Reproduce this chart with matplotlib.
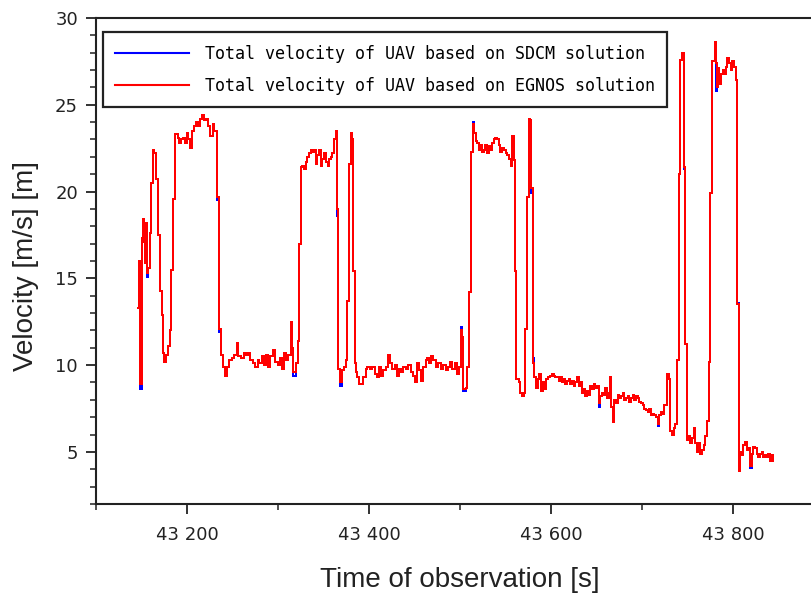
import numpy as np
import matplotlib
matplotlib.use("Agg")
import matplotlib.pyplot as plt
from matplotlib.ticker import MultipleLocator, FuncFormatter

# EGNOS velocity (time [s], velocity [m/s])
t_leg1 = [43146.6, 43147.4, 43148.8, 43150.0, 43150.7, 43151.4, 43152.5, 43154.0, 43155.4, 43156.2,
          43157.6, 43159.1, 43160.5, 43162.7, 43164.2, 43165.7, 43167.9, 43170.1, 43172.2, 43174.1,
          43175.2, 43176.6, 43178.8, 43181.0, 43182.5, 43185.0, 43187.2, 43189.8, 43191.6, 43193.5,
          43196.0, 43197.8, 43199.7, 43201.5, 43203.7, 43205.2, 43208.1, 43209.9, 43211.7, 43214.0,
          43216.5, 43218.3, 43220.9, 43223.4, 43225.6, 43228.2, 43230.0, 43233.0, 43235.5, 43237.3,
          43239.5, 43241.7, 43243.9, 43246.5, 43249.0, 43251.2, 43254.9, 43256.4, 43259.3, 43262.2,
          43264.8, 43267.3, 43269.5, 43272.1, 43274.6, 43277.6, 43279.4, 43282.0, 43284.2, 43286.7,
          43288.5, 43291.5, 43294.0, 43296.6, 43299.5, 43302.1, 43303.9, 43306.1, 43308.7, 43311.2,
          43314.1, 43315.6, 43317.0, 43319.6, 43322.2, 43323.3, 43325.1]
v_leg1 = [13.3, 16.0, 8.9, 17.3, 17.1, 18.4, 17.1, 15.9, 18.2, 15.3,
          15.6, 17.6, 20.5, 22.4, 22.2, 20.7, 17.5, 14.3, 12.9, 10.7,
          10.2, 10.6, 11.1, 12.0, 15.5, 19.6, 23.3, 23.1, 22.8, 23.0,
          23.1, 22.8, 23.4, 23.0, 22.5, 23.5, 23.8, 24.0, 23.8, 24.2,
          24.4, 24.1, 24.2, 23.8, 23.2, 23.9, 23.5, 19.7, 12.1, 10.6,
          9.9, 9.4, 9.9, 10.3, 10.4, 10.6, 11.3, 10.5, 10.4, 10.7,
          10.6, 10.7, 10.3, 10.1, 9.9, 10.3, 10.1, 10.5, 10.0, 10.6,
          9.9, 10.5, 10.9, 10.2, 10.0, 10.4, 9.8, 10.7, 10.3, 10.6,
          12.5, 11.0, 9.6, 10.1, 11.4, 17.0, 21.4]

t_leg2 = [43326.9, 43328.8, 43330.6, 43332.4, 43334.2, 43336.1, 43337.9, 43339.7, 43341.6, 43343.4,
          43345.2, 43347.0, 43348.9, 43350.7, 43352.5, 43354.4, 43356.2, 43358.0, 43359.8, 43361.7,
          43363.5, 43364.6, 43366.1, 43368.3, 43370.4, 43372.6, 43374.5, 43375.6, 43378.1, 43380.0,
          43381.8, 43382.9, 43384.3, 43385.4, 43387.3, 43389.1, 43391.7, 43393.9, 43396.4, 43398.2,
          43401.2, 43403.7, 43406.3, 43408.5, 43411.0, 43412.9, 43415.8, 43418.4, 43420.9, 43423.1,
          43425.7, 43428.2, 43430.4, 43433.0, 43435.5, 43437.7, 43440.3, 43442.9, 43445.8, 43448.7,
          43450.5, 43452.4, 43454.9, 43457.5, 43459.7, 43462.2, 43464.1, 43465.9, 43468.5, 43470.6,
          43473.2, 43475.8, 43478.7, 43481.6, 43484.2, 43486.7, 43488.9, 43491.5, 43494.1, 43496.2,
          43498.8, 43500.6, 43502.5, 43503.6, 43506.1, 43508.0]
v_leg2 = [21.5, 21.3, 21.7, 22.0, 22.2, 22.4, 22.3, 22.4, 21.6, 22.1,
          22.4, 21.5, 21.9, 22.2, 21.7, 21.5, 21.9, 22.0, 22.2, 23.0,
          23.5, 19.0, 9.8, 9.0, 9.7, 9.9, 10.3, 13.7, 21.6, 23.4,
          23.0, 15.4, 10.1, 9.6, 9.3, 8.9, 8.9, 9.3, 9.8, 9.9,
          9.8, 9.9, 9.5, 9.3, 9.9, 9.4, 9.7, 9.9, 10.6, 10.1,
          9.8, 10.0, 9.4, 9.8, 9.6, 9.9, 9.8, 10.0, 9.6, 9.4,
          9.0, 10.1, 9.7, 9.1, 9.9, 10.3, 10.4, 10.1, 10.5, 10.3,
          9.9, 10.1, 9.8, 10.0, 9.7, 9.9, 10.2, 9.8, 10.1, 9.5,
          9.9, 12.0, 11.6, 8.6, 8.7, 9.9]

t_leg3 = [43509.7, 43512.3, 43514.1, 43515.2, 43517.1, 43518.9, 43520.7, 43522.5, 43524.4, 43526.2,
          43528.0, 43529.9, 43531.7, 43533.5, 43535.3, 43537.2, 43539.0, 43540.8, 43542.7, 43544.5,
          43546.3, 43548.1, 43550.0, 43551.8, 43553.6, 43555.5, 43557.3, 43559.1, 43560.2, 43562.0,
          43564.6, 43566.4, 43568.6, 43570.8, 43571.9, 43573.7, 43575.6, 43577.4, 43578.5, 43580.3,
          43581.8, 43583.6, 43585.4, 43587.3, 43589.1, 43590.9, 43592.8, 43594.9, 43596.8, 43598.6,
          43601.2, 43603.0, 43604.8, 43606.7, 43608.5, 43610.3, 43612.1, 43614.0, 43615.8, 43617.6,
          43619.5, 43621.3, 43623.1, 43624.9, 43626.8, 43628.6, 43630.4, 43632.3, 43634.1, 43635.9,
          43637.7, 43639.6, 43641.4, 43643.2, 43645.1, 43646.9, 43648.7, 43650.5, 43652.4, 43654.2,
          43656.0, 43657.9, 43659.7, 43661.5, 43663.3, 43665.2, 43666.3, 43667.7, 43669.6, 43671.4,
          43673.2, 43675.0, 43676.9, 43678.7, 43680.5, 43682.4, 43684.2, 43686.0, 43687.8, 43689.7,
          43691.5, 43693.3, 43695.2, 43697.0, 43698.8, 43700.6, 43702.5, 43704.3, 43706.1, 43708.0,
          43709.8, 43711.6, 43713.4, 43715.3, 43717.1, 43718.9, 43720.8, 43722.6, 43724.4]
v_leg3 = [14.2, 22.3, 23.9, 23.4, 22.9, 22.8, 22.4, 22.7, 22.3, 22.4,
          22.7, 22.2, 22.6, 22.4, 22.8, 23.0, 23.1, 23.0, 22.7, 22.3,
          22.5, 22.4, 22.2, 22.1, 21.9, 21.5, 23.2, 21.8, 15.4, 9.2,
          9.0, 8.4, 8.2, 8.4, 12.1, 19.7, 24.2, 24.1, 20.2, 10.1,
          9.3, 8.7, 9.2, 9.5, 8.5, 9.0, 8.6, 9.2, 9.3, 9.4,
          9.5, 9.4, 9.3, 9.3, 9.1, 9.3, 9.0, 9.2, 8.9, 9.1,
          9.2, 8.9, 9.1, 8.8, 9.0, 9.3, 8.8, 9.0, 8.4, 8.6,
          8.2, 8.5, 8.3, 8.8, 8.6, 8.9, 8.7, 8.8, 7.8, 8.2,
          8.4, 8.3, 8.7, 8.1, 8.4, 9.3, 7.6, 6.7, 8.0, 7.8,
          8.3, 8.1, 8.2, 8.4, 8.0, 8.1, 8.2, 7.9, 8.1, 8.3,
          8.0, 8.2, 8.1, 7.9, 7.8, 7.7, 7.5, 7.4, 7.3, 7.5,
          7.1, 7.2, 7.1, 7.0, 6.6, 7.1, 7.3, 7.2, 7.7]

t_leg4 = [43727.4, 43729.2, 43730.3, 43732.9, 43734.7, 43736.5, 43738.4, 43740.2, 43742.0, 43743.8,
          43745.7, 43747.5, 43749.3, 43751.2, 43753.0, 43754.8, 43756.6, 43758.5, 43760.3, 43762.1,
          43764.0, 43765.8, 43767.6, 43769.4, 43771.3, 43773.1, 43774.9, 43776.8, 43778.6, 43779.7,
          43780.8, 43782.2, 43783.3, 43784.8, 43786.6, 43788.5, 43790.3, 43792.1, 43793.9, 43795.8,
          43797.6, 43799.4, 43801.3, 43803.1, 43804.9, 43806.4, 43807.8, 43809.7, 43811.5, 43813.3,
          43815.2, 43817.0, 43818.8, 43820.6, 43822.5, 43824.3, 43826.1, 43828.0, 43829.8, 43831.6,
          43833.4, 43835.3, 43837.1, 43838.9, 43840.8, 43842.6, 43844.4]
v_leg4 = [9.5, 9.2, 6.2, 6.0, 6.4, 6.6, 10.3, 21.0, 27.6, 28.0,
          21.4, 11.2, 5.7, 5.9, 5.5, 5.8, 6.4, 5.5, 5.0, 5.5,
          4.9, 5.1, 5.4, 5.9, 6.8, 10.2, 19.9, 27.5, 27.5, 28.6,
          27.4, 26.0, 27.1, 26.2, 26.8, 27.0, 26.8, 27.2, 27.7, 27.4,
          27.0, 27.5, 27.2, 26.4, 13.5, 3.9, 5.0, 4.8, 5.4, 5.6,
          5.1, 5.2, 4.2, 4.9, 5.3, 5.2, 4.9, 4.7, 4.9, 5.0,
          4.7, 4.8, 4.7, 4.9, 4.5, 4.8, 4.5]

# epochs where the SDCM solution differs from EGNOS (blue visible under red)
sdcm_diff_t = [43148.8, 43156.2, 43233.0, 43235.5, 43317.0, 43364.6, 43368.3, 43381.8, 43500.6, 43503.6,
               43514.1, 43578.5, 43580.3, 43652.4, 43717.1, 43743.8, 43745.7, 43780.8, 43804.9, 43818.8]
sdcm_diff_v = [8.6, 15.1, 19.5, 11.9, 9.4, 18.6, 8.8, 22.6, 12.2, 8.5,
               24.0, 19.9, 10.4, 7.6, 6.5, 27.8, 21.3, 25.8, 13.6, 4.1]

t = np.array(t_leg1 + t_leg2 + t_leg3 + t_leg4)
v_egnos = np.array(v_leg1 + v_leg2 + v_leg3 + v_leg4)
v_sdcm = v_egnos.copy()
for td, vd in zip(sdcm_diff_t, sdcm_diff_v):
    v_sdcm[np.argmin(np.abs(t - td))] = vd

fig = plt.figure(figsize=(8.11, 5.95), dpi=100)
ax = fig.add_axes([96 / 811, 91 / 595, 728 / 811, 486 / 595])

ax.plot(t, v_sdcm, color='#0000ff', lw=1.4, drawstyle='steps-post', antialiased=False,
        label='Total velocity of UAV based on SDCM solution')
ax.plot(t, v_egnos, color='#ff0000', lw=1.4, drawstyle='steps-post', antialiased=False,
        label='Total velocity of UAV based on EGNOS solution')

ax.set_xlim(43100, 43900)
ax.set_ylim(2, 30)
ax.xaxis.set_major_locator(MultipleLocator(200))
ax.xaxis.set_minor_locator(MultipleLocator(100))
ax.yaxis.set_major_locator(MultipleLocator(5))
ax.yaxis.set_minor_locator(MultipleLocator(1))
ax.xaxis.set_major_formatter(FuncFormatter(lambda x, p: '{:,}'.format(int(round(x))).replace(',', ' ')))

for s in ax.spines.values():
    s.set_linewidth(1.5)
    s.set_color('#222222')
ax.tick_params(which='major', direction='out', length=7, width=1.3, color='#222222',
               labelsize=13, labelcolor='#222222')
ax.tick_params(which='minor', direction='out', length=4, width=1.1, color='#222222')
ax.tick_params(axis='x', which='major', pad=9)
ax.tick_params(axis='y', which='major', pad=6)

ax.set_xlabel('Time of observation [s]', fontsize=20, family='Liberation Sans', color='#222222')
ax.set_ylabel('Velocity [m/s] [m]', fontsize=20, family='Liberation Sans', color='#222222')
ax.xaxis.set_label_coords(0.5, -0.13)
ax.yaxis.set_label_coords(-0.078, 0.49)

leg = ax.legend(loc='upper left', bbox_to_anchor=(0.0096, 0.971), prop={'family': 'DejaVu Sans Mono', 'size': 12},
                handlelength=4.4, handletextpad=0.95, labelspacing=0.85, borderpad=0.75,
                borderaxespad=0, fancybox=False, framealpha=1, edgecolor='#222222')
leg.get_frame().set_linewidth(1.6)
for line in leg.get_lines():
    line.set_linewidth(1.5)
    line.set_antialiased(True)

fig.savefig('out.png', dpi=100)
